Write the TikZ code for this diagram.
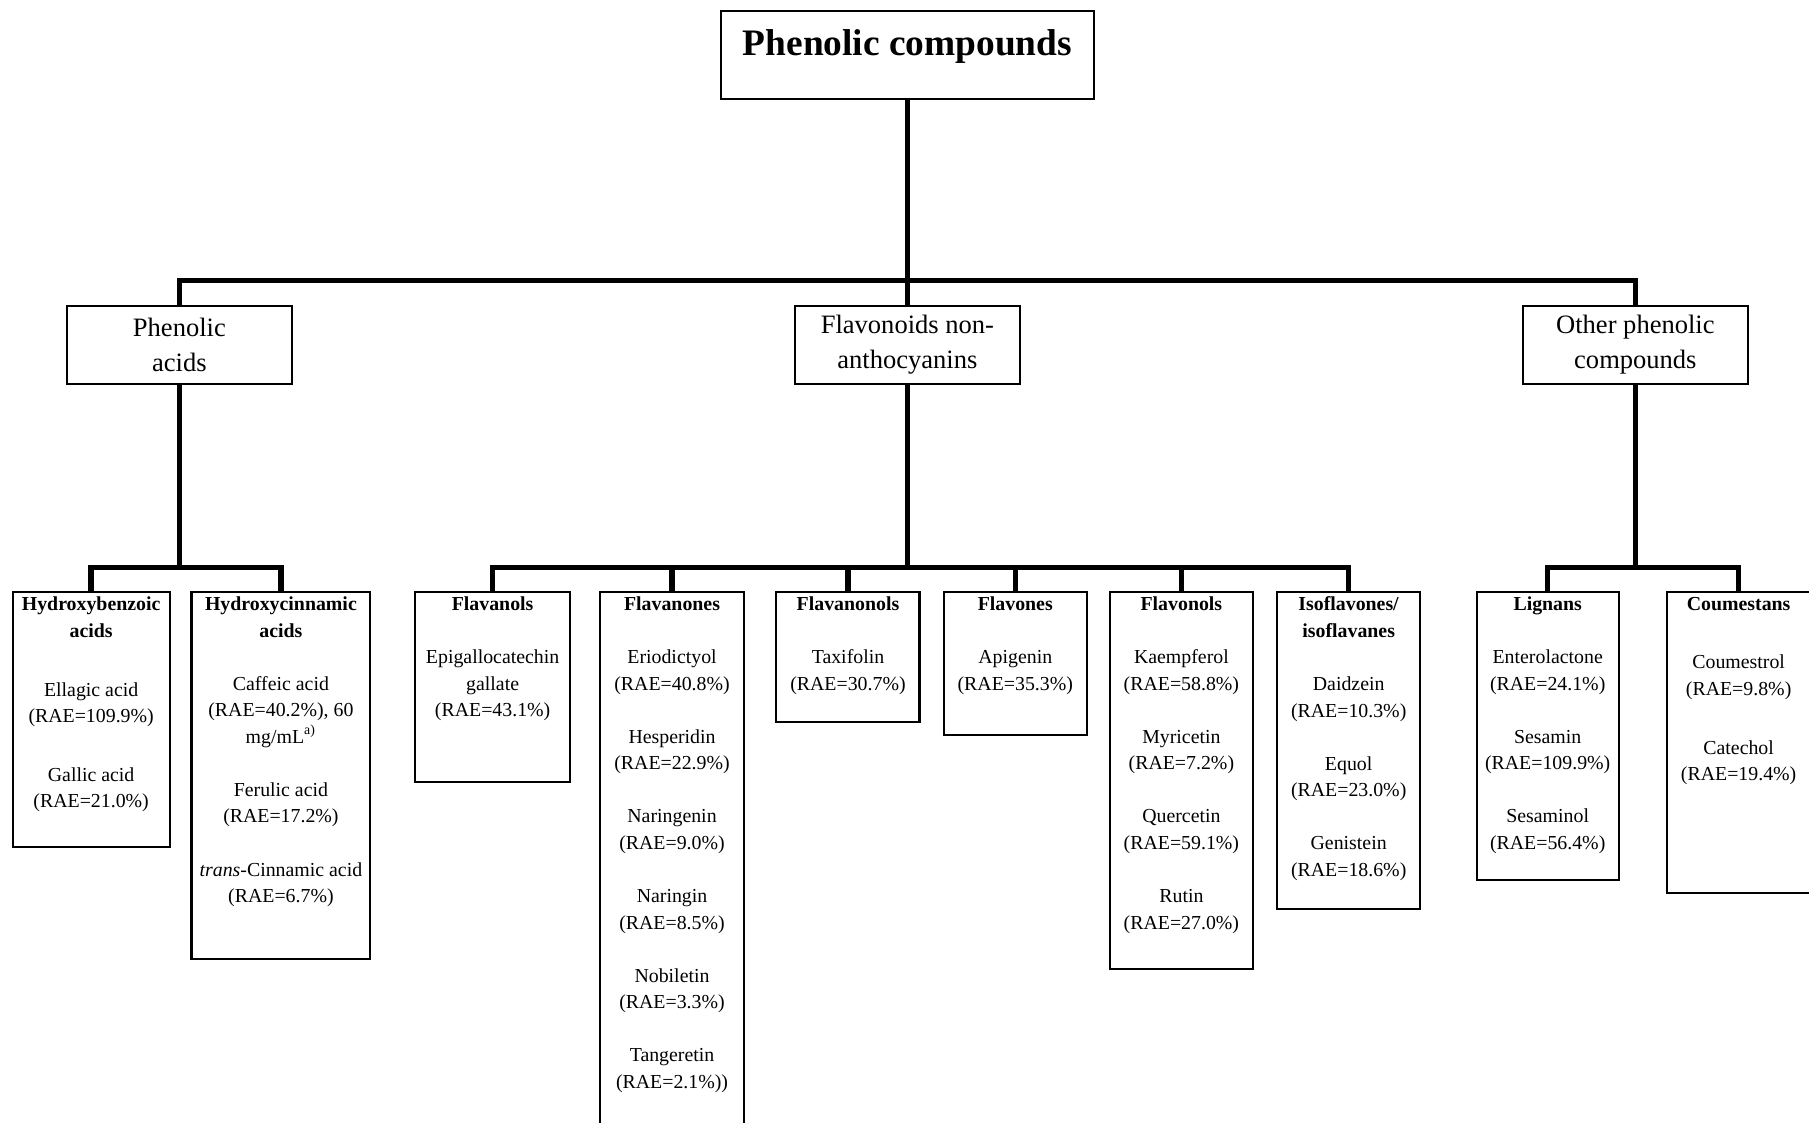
\documentclass[tikz,border=0pt]{standalone}
\usepackage{fontspec}
\setmainfont{Liberation Serif}
\usetikzlibrary{positioning}

\tikzset{
  box/.style={draw, line width=0.9pt, inner sep=0pt, anchor=north},
  dims/.style 2 args={minimum width=#1*0.5pt, minimum height=#2*0.5pt},
  conn/.style={line width=2.4pt},
  midtxt/.style={align=center, font=\fontsize{11.5}{15}\selectfont},
  grp/.style={inner sep=0pt, align=center, font=\fontsize{8.6}{11.5}\selectfont},
}

\begin{document}
\begin{tikzpicture}[x=0.5pt,y=-0.5pt]
  \useasboundingbox (0,0) rectangle (1568,973);
  \clip (0,0) rectangle (1568,973);

  % root
  \node[box, dims={323}{76}] (top) at (786.5,9) {};
  \node[inner sep=0pt, font=\fontsize{16.2}{19}\bfseries\selectfont, below=8pt of top.north] (top-t) {Phenolic compounds};

  % second level
  \node[box, dims={195}{68}, midtxt] (pa) at (155.5,264) {Phenolic\\acids};
  \node[box, dims={195}{68}, midtxt] (fna) at (786.5,264) {Flavonoids non-\\anthocyanins};
  \node[box, dims={195}{68}, midtxt] (oth) at (1417.5,264) {Other phenolic\\compounds};

  % third level boxes
  \node[box, dims={136}{221}] (hba) at (79,512) {};
  \node[box, dims={155}{318}] (hca) at (243.5,512) {};
  \node[box, dims={134}{165}] (fl) at (427,512) {};
  \node[box, dims={125}{490}] (fn) at (582.5,512) {};
  \node[box, dims={124}{113}] (fo) at (735,512) {};
  \node[box, dims={124}{124}] (fv) at (880,512) {};
  \node[box, dims={124}{327}] (fs) at (1024,512) {};
  \node[box, dims={124}{275}] (iso) at (1169,512) {};
  \node[box, dims={123}{250}] (lig) at (1341.5,512) {};
  \node[box, dims={124}{261}] (cou) at (1507,512) {};

  % third level texts
  \node[grp, below=2.5pt of hba.north] (hba-t) {\textbf{Hydroxybenzoic}\\\textbf{acids}\\[14pt]
    Ellagic acid\\(RAE=109.9\%)\\[14pt] Gallic acid\\(RAE=21.0\%)};
  \node[grp, below=2.5pt of hca.north] (hca-t) {\textbf{Hydroxycinnamic}\\\textbf{acids}\\[11.5pt]
    Caffeic acid\\(RAE=40.2\%), 60\\mg/mL\textsuperscript{a)}\\[11.5pt]
    Ferulic acid\\(RAE=17.2\%)\\[11.5pt] \textit{trans}-Cinnamic acid\\(RAE=6.7\%)};
  \node[grp, below=2.5pt of fl.north] (fl-t) {\textbf{Flavanols}\\[11.5pt]
    Epigallocatechin\\gallate\\(RAE=43.1\%)};
  \node[grp, below=2.5pt of fn.north] (fn-t) {\textbf{Flavanones}\\[11.5pt]
    Eriodictyol\\(RAE=40.8\%)\\[11.5pt] Hesperidin\\(RAE=22.9\%)\\[11.5pt]
    Naringenin\\(RAE=9.0\%)\\[11.5pt] Naringin\\(RAE=8.5\%)\\[11.5pt]
    Nobiletin\\(RAE=3.3\%)\\[11.5pt] Tangeretin\\(RAE=2.1\%))};
  \node[grp, below=2.5pt of fo.north] (fo-t) {\textbf{Flavanonols}\\[11.5pt]
    Taxifolin\\(RAE=30.7\%)};
  \node[grp, below=2.5pt of fv.north] (fv-t) {\textbf{Flavones}\\[11.5pt]
    Apigenin\\(RAE=35.3\%)};
  \node[grp, below=2.5pt of fs.north] (fs-t) {\textbf{Flavonols}\\[11.5pt]
    Kaempferol\\(RAE=58.8\%)\\[11.5pt] Myricetin\\(RAE=7.2\%)\\[11.5pt]
    Quercetin\\(RAE=59.1\%)\\[11.5pt] Rutin\\(RAE=27.0\%)};
  \node[grp, below=2.5pt of iso.north] (iso-t) {\textbf{Isoflavones/}\\\textbf{isoflavanes}\\[11.5pt]
    Daidzein\\(RAE=10.3\%)\\[11.5pt] Equol\\(RAE=23.0\%)\\[11.5pt]
    Genistein\\(RAE=18.6\%)};
  \node[grp, below=2.5pt of lig.north] (lig-t) {\textbf{Lignans}\\[11.5pt]
    Enterolactone\\(RAE=24.1\%)\\[11.5pt] Sesamin\\(RAE=109.9\%)\\[11.5pt]
    Sesaminol\\(RAE=56.4\%)};
  \node[grp, below=2.5pt of cou.north] (cou-t) {\textbf{Coumestans}\\[14pt]
    Coumestrol\\(RAE=9.8\%)\\[14pt] Catechol\\(RAE=19.4\%)};

  % connectors
  \coordinate (j0) at (786.5,243);
  \draw[conn] (top.south) -- (j0);
  \draw[conn] (pa.north) |- (j0) -| (oth.north);
  \draw[conn] (fna.north) -- (j0);

  \draw[conn] (pa.south) -- ++(0,158) coordinate (j1);
  \draw[conn] (hba.north) |- (j1) -| (hca.north);

  \draw[conn] (fna.south) -- ++(0,158) coordinate (j2);
  \draw[conn] (fl.north) |- (j2) -| (iso.north);
  \foreach \n in {fn,fo,fv,fs}
    \draw[conn] (\n.north) -- (\n.north |- j2);

  \draw[conn] (oth.south) -- ++(0,158) coordinate (j3);
  \draw[conn] (lig.north) |- (j3) -| (cou.north);
\end{tikzpicture}
\end{document}
